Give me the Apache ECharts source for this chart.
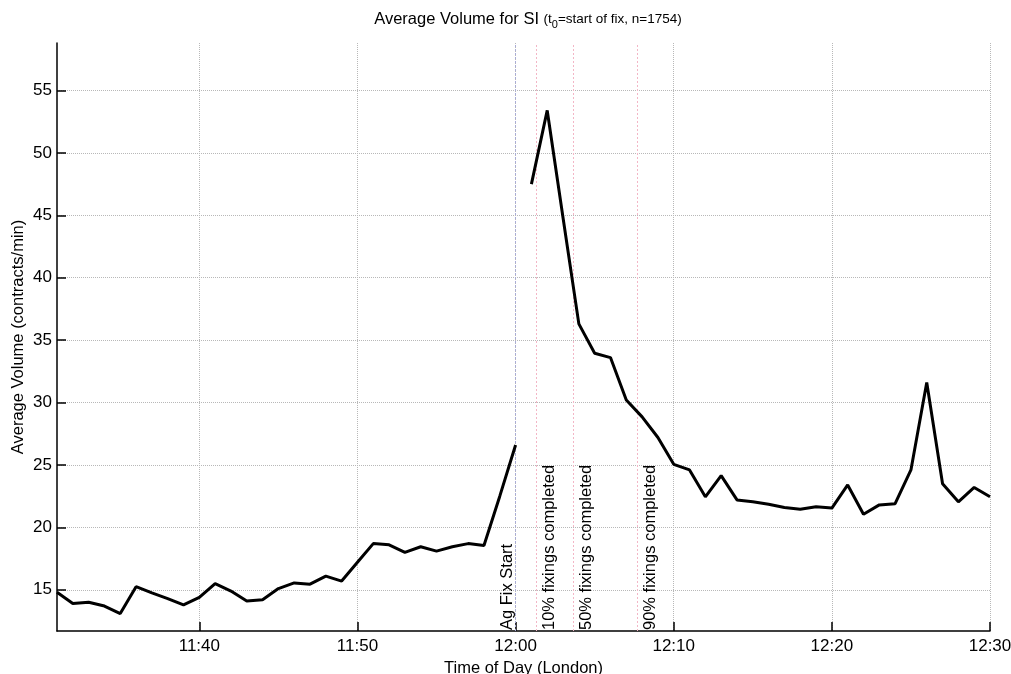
<!DOCTYPE html>
<html>
<head>
<meta charset="utf-8">
<script src="https://cdn.jsdelivr.net/npm/echarts@6/dist/echarts.min.js"></script>
<style>html,body{margin:0;padding:0;background:#fff;}#c{width:1011px;height:674px;}</style>
</head>
<body>
<div id="c"></div>
<script>
// ---- data ----
const timesBefore = ['11:31','11:32','11:33','11:34','11:35','11:36','11:37','11:38','11:39','11:40',
  '11:41','11:42','11:43','11:44','11:45','11:46','11:47','11:48','11:49','11:50',
  '11:51','11:52','11:53','11:54','11:55','11:56','11:57','11:58','11:59','12:00'];
const volumeBefore = [14.8,13.9,14.0,13.7,13.1,15.25,14.75,14.3,13.8,14.4,
  15.5,14.9,14.1,14.2,15.1,15.55,15.45,16.1,15.7,17.2,
  18.7,18.6,18.0,18.45,18.1,18.45,18.7,18.55,22.5,26.6];
const timesAfter = ['12:01','12:02','12:03','12:04','12:05','12:06','12:07','12:08','12:09','12:10',
  '12:11','12:12','12:13','12:14','12:15','12:16','12:17','12:18','12:19','12:20',
  '12:21','12:22','12:23','12:24','12:25','12:26','12:27','12:28','12:29','12:30'];
const volumeAfter = [47.5,53.4,44.8,36.3,33.95,33.6,30.2,28.85,27.2,25.05,
  24.6,22.45,24.15,22.2,22.05,21.85,21.6,21.45,21.65,21.55,
  23.4,21.05,21.8,21.9,24.6,31.6,23.5,22.05,23.2,22.45];
const fixEventTimes = ['12:00','12:01:18','12:03:39','12:07:42'];
const fixEventLabels = ['Ag Fix Start','10% fixings completed','50% fixings completed','90% fixings completed'];
const xTickLabels = ['11:40','11:50','12:00','12:10','12:20','12:30'];
const yTickValues = [15,20,25,30,35,40,45,50,55];
const xRange = ['11:31','12:30'];
const yRange = [11.7,58.8];

// ---- helpers ----
function toMin(s){const p=s.split(':').map(Number);return p[0]*60+p[1]+(p[2]||0)/60;}
function fmt(v){const h=Math.floor(v/60),m=Math.round(v-h*60);return h+':'+(m<10?'0':'')+m;}
const FONT='"Liberation Sans", Arial, sans-serif';

const chart = echarts.init(document.getElementById('c'), null, {renderer:'canvas'});
const markData = fixEventTimes.map((t,i)=>({
  xAxis: toMin(t),
  lineStyle:{color: i===0 ? '#a9acd8' : '#f3b6c6', type:[2,2], width:1},
  label:{show:true, formatter: fixEventLabels[i], position: i===0 ? 'insideStartTop' : 'insideStartBottom',
    distance: i===0 ? [ 1, 0 ] : [ 1, 5 ], color:'#000', fontSize:16.5, fontFamily:FONT}
}));

chart.setOption({
  animation:false,
  backgroundColor:'#fff',
  title:{
    left:523, textAlign:'center', top:4,
    text:'{a|Average Volume for SI }{b|(t}{c|0}{b|=start of fix, n=1754)}',
    textStyle:{
      fontFamily:FONT, fontWeight:'normal',
      rich:{
        a:{fontSize:16.5, color:'#000', fontFamily:FONT, fontWeight:'normal', lineHeight:20},
        b:{fontSize:13.5, color:'#000', fontFamily:FONT, fontWeight:'normal', lineHeight:20},
        c:{fontSize:11, color:'#000', fontFamily:FONT, fontWeight:'normal', lineHeight:20, padding:[12,0,0,0]}
      }
    }
  },
  grid:{left:57, right:21, top:43, bottom:43, containLabel:false, outerBoundsMode:'none'},
  xAxis:{
    type:'value', min:toMin(xRange[0]), max:toMin(xRange[1]),
    name:'Time of Day (London)', nameLocation:'middle', nameGap:26,
    nameTextStyle:{fontSize:16.5, color:'#000', fontFamily:FONT},
    axisLine:{lineStyle:{color:'#000', width:1.5}},
    axisTick:{inside:true, length:9, customValues:xTickLabels.map(toMin), lineStyle:{color:'#000', width:1.5}},
    axisLabel:{customValues:xTickLabels.map(toMin), formatter:v=>fmt(v), fontSize:17, color:'#000', fontFamily:FONT, margin:7},
    splitLine:{show:true, lineStyle:{color:'#b8b8b8', type:'dotted', width:1}}
  },
  yAxis:{
    type:'value', min:yRange[0], max:yRange[1],
    name:'Average Volume (contracts/min)', nameLocation:'middle', nameGap:30, nameRotate:90, nameMoveOverlap:false,
    nameTextStyle:{fontSize:16.5, color:'#000', fontFamily:FONT},
    axisLine:{show:true, lineStyle:{color:'#000', width:1.5}},
    axisTick:{show:true, inside:true, length:9, customValues:yTickValues, lineStyle:{color:'#000', width:1.5}},
    axisLabel:{customValues:yTickValues, fontSize:17, color:'#000', fontFamily:FONT, margin:5},
    splitLine:{show:true, lineStyle:{color:'#b8b8b8', type:'dotted', width:1}}
  },
  series:[
    {type:'line', name:'before', data:timesBefore.map((t,i)=>[toMin(t),volumeBefore[i]]),
      showSymbol:false, symbol:'none', lineStyle:{color:'#000', width:3}, z:5,
      markLine:{silent:true, symbol:['none','none'], data:markData}},
    {type:'line', name:'after', data:timesAfter.map((t,i)=>[toMin(t),volumeAfter[i]]),
      showSymbol:false, symbol:'none', lineStyle:{color:'#000', width:3}, z:5}
  ]
});
</script>
</body>
</html>
